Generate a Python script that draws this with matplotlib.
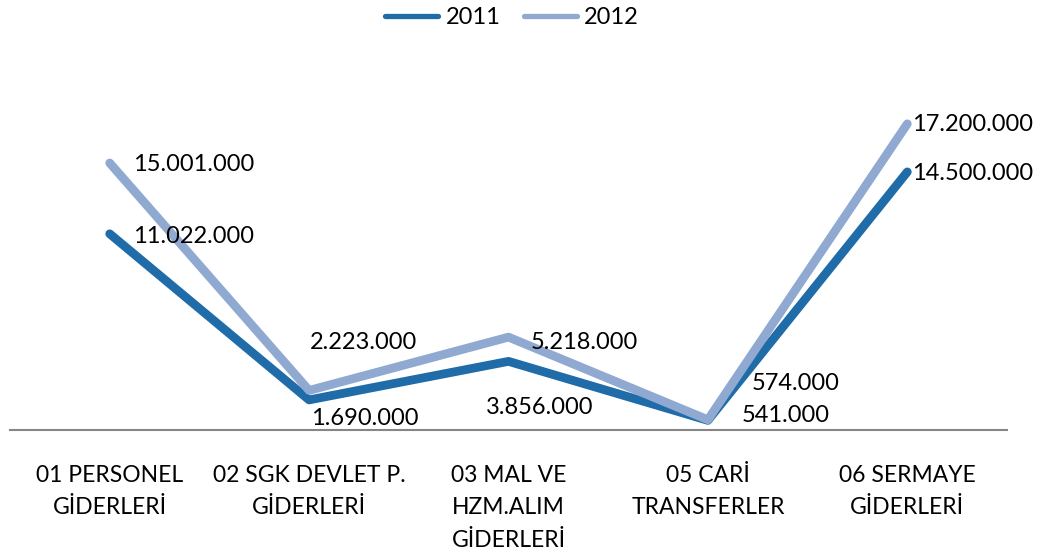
import matplotlib
matplotlib.use("Agg")
import matplotlib.pyplot as plt

plt.rcParams['font.family'] = ['Lato', 'DejaVu Sans']

categories = ["01 PERSONEL\nGİDERLERİ", "02 SGK DEVLET P.\nGİDERLERİ",
              "03 MAL VE\nHZM.ALIM\nGİDERLERİ", "05 CARİ\nTRANSFERLER",
              "06 SERMAYE\nGİDERLERİ"]
vals_2011 = [11022000, 1690000, 3856000, 541000, 14500000]
vals_2012 = [15001000, 2223000, 5218000, 574000, 17200000]
labels_2011 = ["11.022.000", "1.690.000", "3.856.000", "541.000", "14.500.000"]
labels_2012 = ["15.001.000", "2.223.000", "5.218.000", "574.000", "17.200.000"]

c2011 = "#1F6CA8"
c2012 = "#8FA9D1"

fig = plt.figure(figsize=(10.41, 5.54), dpi=100)
ax = fig.add_axes([10/1041, 124/554, 997/1041, 356/554])

x = list(range(len(categories)))
ax.plot(x, vals_2011, color=c2011, lw=6.3, solid_capstyle='round', label="2011")
ax.plot(x, vals_2012, color=c2012, lw=6.3, solid_capstyle='round', label="2012")

ax.set_xlim(-0.5, 4.5)
ax.set_ylim(0, 20000000)

# label offsets in pixels (dx, dy, ha)
off_2011 = [(23, -1, 'left'), (56, -17, 'center'), (31, -44, 'center'), (34, 7, 'left'), (5, 0, 'left')]
off_2012 = [(23, 0, 'left'), (54, 50, 'center'), (76, -3, 'center'), (44, 38, 'left'), (5, 1, 'left')]
for i in x:
    dx, dy, ha = off_2011[i]
    ax.annotate(labels_2011[i], (i, vals_2011[i]), xytext=(dx, dy), textcoords='offset pixels',
                ha=ha, va='center_baseline', fontsize=17)
    dx, dy, ha = off_2012[i]
    ax.annotate(labels_2012[i], (i, vals_2012[i]), xytext=(dx, dy), textcoords='offset pixels',
                ha=ha, va='center_baseline', fontsize=17)

ax.set_xticks(x)
ax.set_xticklabels(categories, fontsize=16.5, linespacing=1.68)
ax.tick_params(axis='x', length=0, pad=25)
ax.set_yticks([])
for s in ['top', 'right', 'left']:
    ax.spines[s].set_visible(False)
ax.spines['bottom'].set_color('#868686')
ax.spines['bottom'].set_linewidth(1.5)

leg = fig.legend(loc='center', bbox_to_anchor=(512/1041, 1 - 18/554), ncol=2, frameon=False,
                 fontsize=17, handlelength=2.25, columnspacing=1.0, handletextpad=0.3)
for h in leg.get_lines():
    h.set_linewidth(3.8)

fig.savefig("out.png", dpi=100)
